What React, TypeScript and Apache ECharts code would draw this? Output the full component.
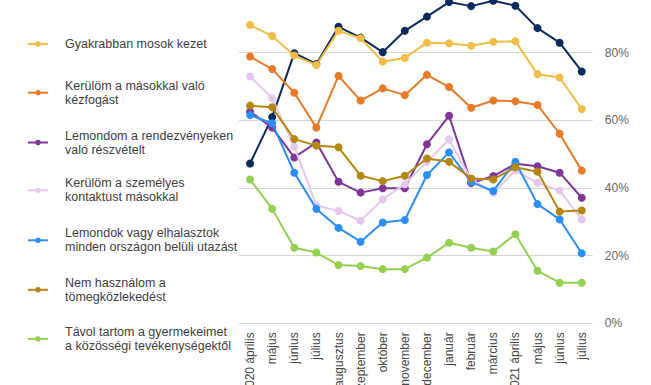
import React, { useEffect, useRef } from "react";
import * as echarts from "echarts";

const categories = [
  "2020 április", "május", "június", "július", "augusztus", "szeptember",
  "október", "november", "december", "január", "február", "március",
  "2021 április", "május", "június", "július",
];

const yTicks = [0, 20, 40, 60, 80, 100];

const seriesNames = [
  "Aggódom a járvány miatt",
  "Gyakrabban mosok kezet",
  "Kerülöm a másokkal való kézfogást",
  "Lemondom a rendezvényeken való részvételt",
  "Kerülöm a személyes kontaktust másokkal",
  "Lemondok vagy elhalasztok minden országon belüli utazást",
  "Nem használom a tömegközlekedést",
  "Távol tartom a gyermekeimet a közösségi tevékenységektől",
];

const legendLabels = [
  "",
  "Gyakrabban mosok kezet",
  "Kerülöm a másokkal való\nkézfogást",
  "Lemondom a rendezvényeken\nvaló részvételt",
  "Kerülöm a személyes\nkontaktust másokkal",
  "Lemondok vagy elhalasztok\nminden országon belüli utazást",
  "Nem használom a\ntömegközlekedést",
  "Távol tartom a gyermekeimet\na közösségi tevékenységektől",
];

const navy = [47.2, 60.9, 79.8, 76.6, 87.6, 84.4, 80.1, 86.4, 90.6, 94.9, 93.7, 95.3, 93.8, 87.2, 82.9, 74.4];
const handWashing = [88.1, 84.9, 79.1, 76.3, 86.4, 84.2, 77.3, 78.4, 82.9, 82.7, 82.0, 83.2, 83.3, 73.6, 72.6, 63.3];
const handshake = [78.8, 75.1, 68.1, 57.8, 73.1, 65.8, 69.4, 67.4, 73.4, 69.8, 63.7, 65.8, 65.6, 64.5, 56.0, 45.1];
const events = [62.5, 57.8, 49.0, 53.4, 41.8, 38.6, 39.9, 39.9, 52.9, 61.3, 41.4, 43.5, 47.1, 46.4, 44.5, 37.1];
const contact = [72.9, 66.5, 52.2, 34.8, 33.2, 30.3, 36.6, 41.1, 47.7, 54.3, 42.5, 38.5, 45.1, 41.5, 39.2, 30.7];
const travel = [61.5, 59.1, 44.5, 33.8, 28.2, 24.1, 29.8, 30.5, 43.8, 50.5, 41.7, 39.1, 47.7, 35.2, 30.7, 20.7];
const transport = [64.3, 63.8, 54.4, 52.5, 52.0, 43.6, 42.0, 43.6, 48.7, 47.7, 42.8, 42.5, 46.1, 44.8, 33.0, 33.3];
const children = [42.5, 33.8, 22.3, 20.9, 17.2, 16.9, 16.0, 16.0, 19.4, 23.8, 22.3, 21.2, 26.3, 15.5, 12.0, 12.0];

const seriesData = [navy, handWashing, handshake, events, contact, travel, transport, children];
const colors = ["#0a2a5c", "#f2bd46", "#e97a27", "#7f3598", "#e6c8ee", "#2c8ef8", "#b3860f", "#94d050"];

const FONT = 'Arial, "Liberation Sans", sans-serif';

export default function App() {
  const ref = useRef<HTMLDivElement>(null);

  useEffect(() => {
    if (!ref.current) return;
    const chart = echarts.init(ref.current, undefined, { renderer: "svg" });

    const legendCenters = [0, 44, 92.7, 142.5, 190.3, 240.3, 289.8, 338.9];
    const legends = [] as any[];
    for (let i = 1; i < seriesNames.length; i++) {
      const lines = legendLabels[i].split("\n").length;
      legends.push({
        orient: "vertical",
        left: 27,
        top: legendCenters[i] - (lines * 14) / 2,
        padding: 0,
        itemWidth: 20,
        itemHeight: 7,
        data: [seriesNames[i]],
        formatter: () => legendLabels[i],
        selectedMode: false,
        textStyle: {
          fontFamily: FONT,
          fontSize: 12.5,
          lineHeight: 14,
          color: "#404040",
          padding: [0, 0, 0, 12],
        },
      });
    }

    chart.setOption({
      animation: false,
      backgroundColor: "#ffffff",
      color: colors,
      legend: legends,
      grid: {
        left: 239,
        right: 58.2,
        top: -15.2,
        bottom: 61.7,
        containLabel: false,
        outerBoundsMode: "none",
      },
      xAxis: {
        type: "category",
        data: categories,
        boundaryGap: true,
        axisLine: { show: false },
        axisTick: { show: false },
        axisLabel: {
          rotate: 90,
          interval: 0,
          margin: 9,
          fontFamily: FONT,
          fontSize: 12,
          color: "#444444",
        },
      },
      yAxis: {
        type: "value",
        position: "right",
        min: yTicks[0],
        max: yTicks[yTicks.length - 1],
        interval: 20,
        axisLine: { show: false },
        axisTick: { show: false },
        splitLine: { lineStyle: { color: "#d6d6d6", width: 1 } },
        axisLabel: {
          formatter: "{value}%",
          margin: 12,
          showMaxLabel: false,
          fontFamily: FONT,
          fontSize: 12,
          color: "#666666",
        },
      },
      series: seriesNames.map((name, i) => ({
        type: "line",
        name,
        data: seriesData[i],
        symbol: "circle",
        symbolSize: 8,
        showSymbol: true,
        lineStyle: { width: 2, color: colors[i] },
        itemStyle: { color: colors[i] },
        clip: false,
        z: 2 + i,
      })),
    });

    return () => chart.dispose();
  }, []);

  return (
    <div
      ref={ref}
      style={{ position: "fixed", left: 0, top: 0, width: 651, height: 385, background: "#fff" }}
    />
  );
}
